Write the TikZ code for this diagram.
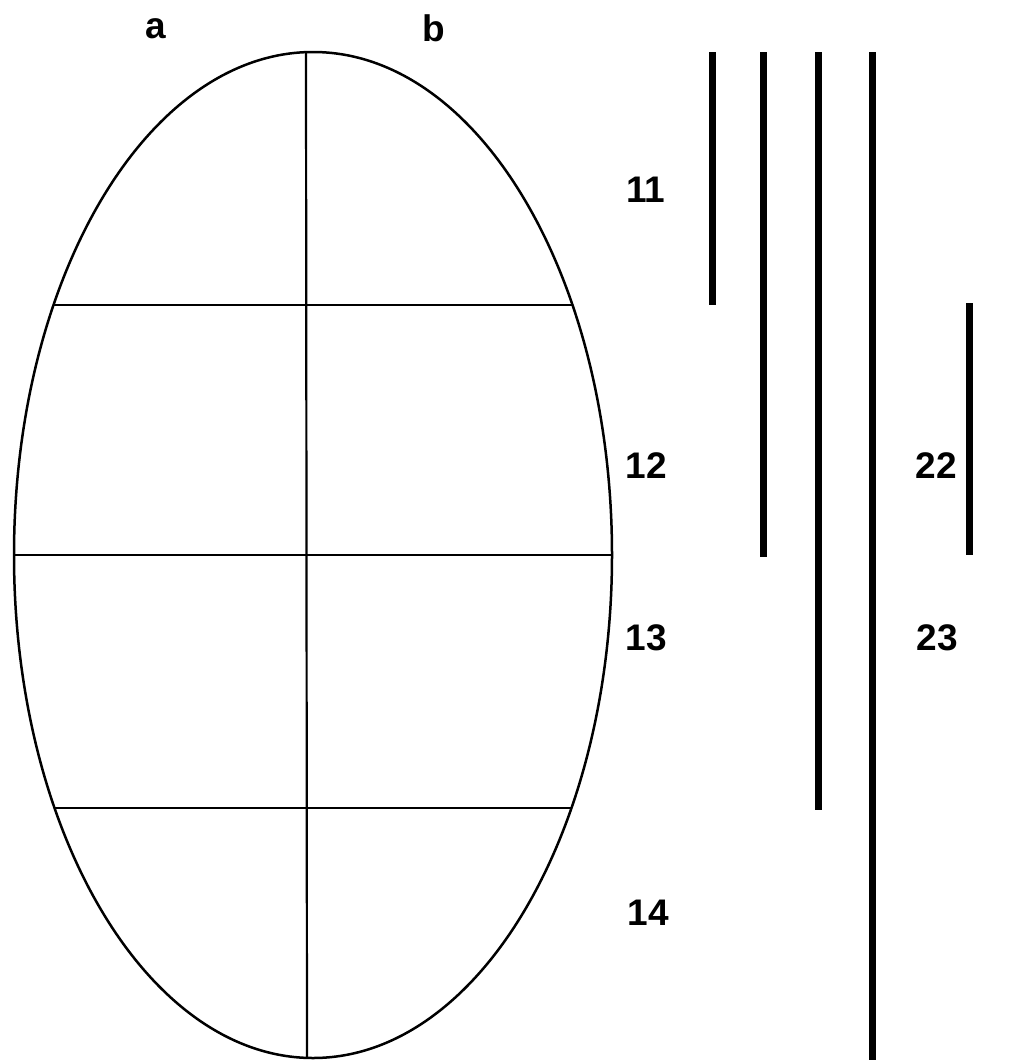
\documentclass[tikz,border=0pt]{standalone}
\usepackage{fontspec}
\setmainfont{Liberation Sans}
\begin{document}
\begin{tikzpicture}[x=1pt,y=-1pt,
  lbl/.style={font=\fontsize{37}{42}\bfseries\selectfont, inner sep=0pt},
  thin line/.style={line width=2.5pt},
  divider/.style={line width=2.2pt},
  bar/.style={line width=7pt, line cap=butt}]
\useasboundingbox (0,0) rectangle (1019,1060);
% egg / ellipse
\draw[thin line] (313,555) ellipse [x radius=299, y radius=503];
\coordinate (vt) at (306,52.2);
\coordinate (vb) at (307,1057.8);
\draw[divider] (vt) -- (vb);
\coordinate (h1l) at (53.6,305); \coordinate (h1r) at (572.4,305);
\coordinate (h2l) at (14,555);   \coordinate (h2r) at (612,555);
\coordinate (h3l) at (54.6,808); \coordinate (h3r) at (571.4,808);
\draw[divider] (h1l) -- (h1r);
\draw[divider] (h2l) -- (h2r);
\draw[divider] (h3l) -- (h3r);
% labels
\node[lbl] (la) at (156,29) {a};
\node[lbl] (lb) at (434,28) {b};
\node[lbl] (l11) at (646,190) {11};
\node[lbl] (l12) at (646,466) {12};
\node[lbl] (l13) at (646,638) {13};
\node[lbl] (l14) at (648,913) {14};
\node[lbl] (l22) at (936,466) {22};
\node[lbl] (l23) at (937,638) {23};
% bars
\coordinate (b1t) at (712,52);  \coordinate (b1b) at (712,305);
\coordinate (b2t) at (763,52);  \coordinate (b2b) at (763,557);
\coordinate (b3t) at (818,52);  \coordinate (b3b) at (818,810);
\coordinate (b4t) at (872,52);  \coordinate (b4b) at (872,1060);
\coordinate (b5t) at (969,303); \coordinate (b5b) at (969,555);
\draw[bar] (b1t) -- (b1b);
\draw[bar] (b2t) -- (b2b);
\draw[bar] (b3t) -- (b3b);
\draw[bar] (b4t) -- (b4b);
\draw[bar] (b5t) -- (b5b);
\end{tikzpicture}
\end{document}
